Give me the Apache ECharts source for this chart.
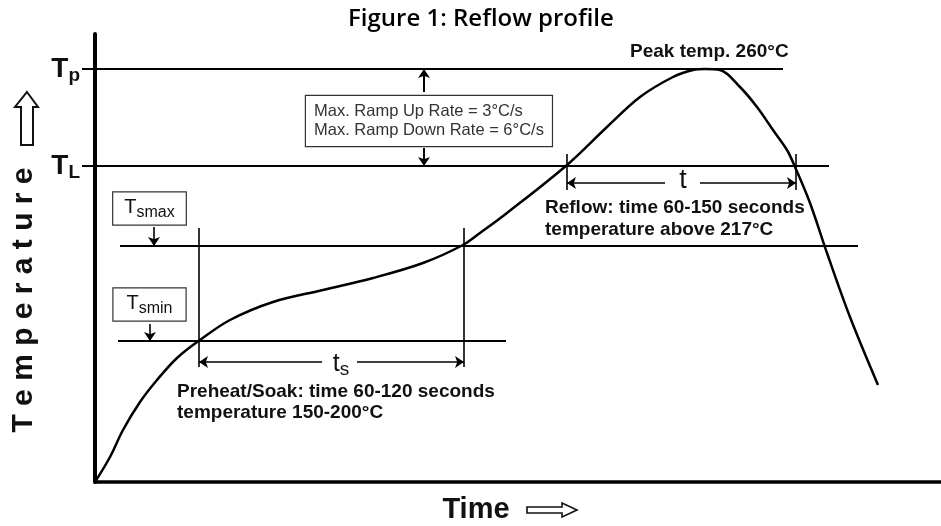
<!DOCTYPE html>
<html><head><meta charset="utf-8">
<script src="https://cdn.jsdelivr.net/npm/echarts@6/dist/echarts.min.js"></script>
<style>html,body{margin:0;padding:0;background:#fff}#c{width:941px;height:526px}</style>
</head><body><div id="c"></div>
<script>
// Schematic reflow profile (arbitrary units: x = time, y = temperature)
const curveTime = [0, 15, 28, 45, 62, 82, 105, 135, 178, 228, 278, 328, 368, 385, 412, 472, 512, 545, 578, 598, 610, 625, 645, 662, 678, 692, 700, 715, 732, 755, 783];
const curveTemp = [0, 25, 52, 80, 102, 124, 142, 162, 180, 192, 204, 219, 237, 249, 269, 317, 355, 385, 405, 412, 413, 412, 395, 375, 352, 332, 315, 279, 229, 165, 97];

// temperature levels: Tp, TL, Tsmax, Tsmin
const levelTemps = [413, 316, 236, 141];
const levelFrom = [0, 0, 25, 23];
const levelTo = [688, 734, 763, 411];
const axisLevelTemps = [413, 316];
const axisLevelSubs = ['p', 'L'];

// soak window (ts) and reflow window (t)
const soakTimes = [104, 369];
const soakMarkerTemps = [115, 254];
const soakArrowTemp = 120;
const reflowTimes = [472, 701];
const reflowMarkerTemps = [292, 328];
const reflowArrowTemp = 299;

// ramp arrow between Tp and TL
const rampArrowTime = 329;
const rampArrowStarts = [390, 334];

const texts = {
  title: 'Figure 1: Reflow profile',
  peak: 'Peak temp. 260°C',
  ramp: ['Max. Ramp Up Rate = 3°C/s', 'Max. Ramp Down Rate = 6°C/s'],
  reflow: ['Reflow: time 60-150 seconds', 'temperature above 217°C'],
  soak: ['Preheat/Soak: time 60-120 seconds', 'temperature 150-200°C'],
  xName: 'Time',
  yName: 'T e m p e r a t u r e'
};

const FF = '"Liberation Sans", Arial, sans-serif';
const chart = echarts.init(document.getElementById('c'), null, {renderer: 'canvas'});

const seg = (x1, y1, x2, y2, s1, s2, w) => [
  {coord: [x1, y1], symbol: s1 || 'none', symbolSize: 9, lineStyle: {width: w || 1.6, color: '#000', type: 'solid'}},
  {coord: [x2, y2], symbol: s2 || 'none', symbolSize: 9}
];

const markData = [];
soakTimes.forEach(t => markData.push(seg(t, soakMarkerTemps[0], t, soakMarkerTemps[1], 'none', 'none', 1.6)));
reflowTimes.forEach(t => markData.push(seg(t, reflowMarkerTemps[0], t, reflowMarkerTemps[1], 'none', 'none', 1.6)));
markData.push(seg(soakTimes[0], soakArrowTemp, 227, soakArrowTemp, 'arrow', 'none', 1.6));
markData.push(seg(262, soakArrowTemp, soakTimes[1], soakArrowTemp, 'none', 'arrow', 1.6));
markData.push(seg(reflowTimes[0], reflowArrowTemp, 570, reflowArrowTemp, 'arrow', 'none', 1.6));
markData.push(seg(605, reflowArrowTemp, reflowTimes[1], reflowArrowTemp, 'none', 'arrow', 1.6));
markData.push(seg(rampArrowTime, rampArrowStarts[0], rampArrowTime, levelTemps[0], 'none', 'arrow', 2));
markData.push(seg(rampArrowTime, rampArrowStarts[1], rampArrowTime, levelTemps[1], 'none', 'arrow', 2));
markData.push(seg(59, 255, 59, levelTemps[2], 'none', 'arrow', 1.6));
markData.push(seg(55, 158, 55, levelTemps[3], 'none', 'arrow', 1.6));

const lbl = (x, y, label) => ({value: [x, y], label: Object.assign({show: true, fontFamily: FF, color: '#111'}, label)});

const boxRich = {
  T: {fontSize: 20, fontFamily: FF, color: '#111', lineHeight: 26},
  s: {fontSize: 16, fontFamily: FF, color: '#111', lineHeight: 26, padding: [10, 0, 0, 0]}
};

const annotations = [
  lbl(535, 430, {position: 'right', distance: 0, formatter: texts.peak, fontSize: 19, fontWeight: 'bold'}),
  lbl(211, 361, {position: 'right', distance: 0, formatter: texts.ramp.join('\n'), fontSize: 16.5, color: '#333', align: 'left', lineHeight: 19,
    padding: [6, 8], borderColor: '#333', borderWidth: 1.2, backgroundColor: '#fff'}),
  lbl(450, 263, {position: 'right', distance: 0, formatter: texts.reflow.join('\n'), fontSize: 19, fontWeight: 'bold', lineHeight: 22}),
  lbl(82, 79.5, {position: 'right', distance: 0, formatter: texts.soak.join('\n'), fontSize: 19, fontWeight: 'bold', lineHeight: 21}),
  lbl(588, 301, {position: 'inside', formatter: 't', fontSize: 27}),
  lbl(246, 118, {position: 'inside', formatter: '{t|t}{s|s}', rich: {
    t: {fontSize: 25, fontFamily: FF, color: '#111', lineHeight: 28},
    s: {fontSize: 19, fontFamily: FF, color: '#111', lineHeight: 28, padding: [12, 0, 0, 0]}}}),
  lbl(54.5, 273.5, {position: 'inside', formatter: '{T|T}{s|smax}', rich: boxRich, padding: [2, 11, 4, 11],
    borderColor: '#333', borderWidth: 1.2, backgroundColor: '#fff'}),
  lbl(54.5, 177.5, {position: 'inside', formatter: '{T|T}{s|smin}', rich: boxRich, padding: [2, 13, 4, 13],
    borderColor: '#333', borderWidth: 1.2, backgroundColor: '#fff'})
];

const option = {
  animation: false,
  backgroundColor: '#fff',
  title: {
    text: texts.title, left: 343, top: 2,
    textStyle: {fontFamily: '"Open Sans", sans-serif', fontWeight: 600, fontSize: 24, color: '#000'}
  },
  grid: {left: 95, right: 0, top: 34, bottom: 44, containLabel: false},
  xAxis: {
    type: 'value', min: 0, max: 846,
    axisLine: {show: true, onZero: false, lineStyle: {color: '#000', width: 3.5}},
    axisTick: {show: false}, axisLabel: {show: false}, splitLine: {show: false}
  },
  yAxis: {
    type: 'value', min: 0, max: 448,
    axisLine: {show: true, onZero: false, lineStyle: {color: '#000', width: 4}},
    axisTick: {show: true, customValues: axisLevelTemps, length: 13, lineStyle: {color: '#000', width: 2}},
    axisLabel: {
      show: true, customValues: axisLevelTemps, margin: 15,
      formatter: v => '{T|T}{s|' + axisLevelSubs[axisLevelTemps.indexOf(v)] + '}',
      rich: {
        T: {fontSize: 28, fontWeight: 'bold', fontFamily: FF, color: '#111', lineHeight: 30},
        s: {fontSize: 19, fontWeight: 'bold', fontFamily: FF, color: '#111', lineHeight: 30, padding: [14, 0, 0, 0]}
      }
    },
    splitLine: {show: false}
  },
  series: [
    {
      type: 'line', name: 'Reflow profile', clip: false, smooth: 0.35, symbol: 'none', z: 5,
      data: curveTime.map((t, i) => [t, curveTemp[i]]),
      lineStyle: {color: '#000', width: 2.5},
      markLine: {silent: true, animation: false, label: {show: false}, symbol: ['none', 'none'], data: markData, z: 4}
    },
    ...levelTemps.map((v, i) => ({
      type: 'line', clip: false, symbol: 'none', silent: true, z: 3,
      data: [[levelFrom[i], v], [levelTo[i], v]],
      lineStyle: {color: '#000', width: 2.2}
    })),
    {type: 'scatter', symbolSize: 0, silent: true, z: 10, itemStyle: {opacity: 1}, data: annotations}
  ],
  graphic: [
    {type: 'text', x: 24, y: 300, rotation: Math.PI / 2,
      style: {text: texts.yName, font: 'bold 30px "Liberation Sans", Arial', fill: '#111', align: 'center', verticalAlign: 'middle'}},
    {type: 'polygon', shape: {points: [[27, 92], [38, 107], [33, 107], [33, 145], [21, 145], [21, 107], [15, 107]]},
      style: {fill: '#fff', stroke: '#111', lineWidth: 2}},
    {type: 'text', x: 476, y: 510,
      style: {text: texts.xName, font: 'bold 29px "Liberation Sans", Arial', fill: '#111', align: 'center', verticalAlign: 'middle'}},
    {type: 'polygon', shape: {points: [[527, 507], [562, 507], [562, 503], [577, 510], [562, 517], [562, 513], [527, 513]]},
      style: {fill: '#fff', stroke: '#111', lineWidth: 1.6}}
  ]
};
chart.setOption(option);
</script></body></html>
